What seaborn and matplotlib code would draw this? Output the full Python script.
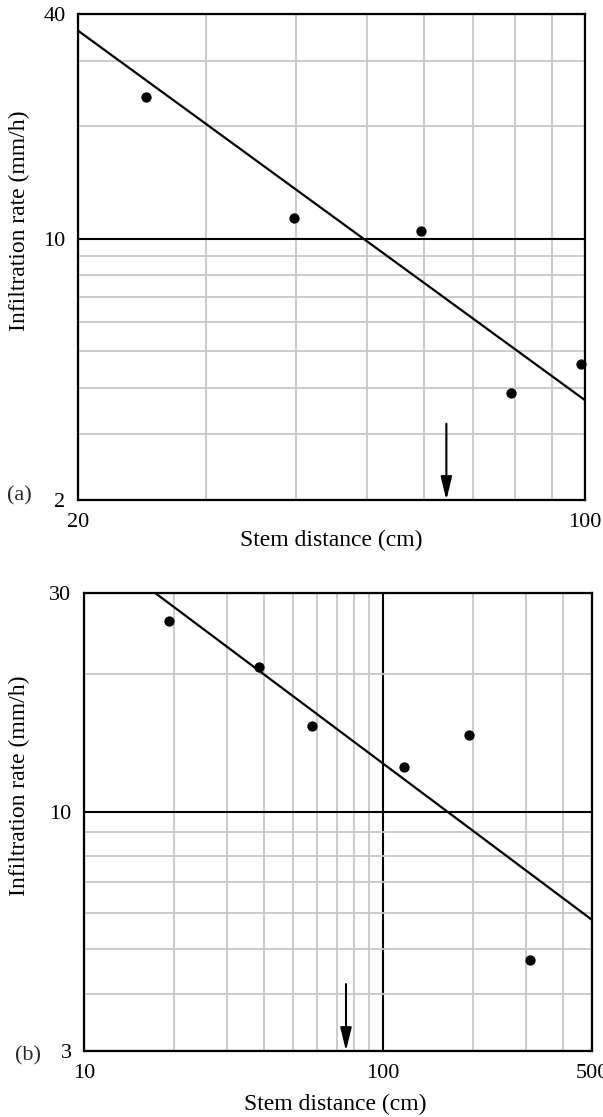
import matplotlib
matplotlib.use("Agg")
import matplotlib.pyplot as plt
import seaborn as sns
import numpy as np
import pandas as pd
from matplotlib.ticker import FixedLocator, NullFormatter, FixedFormatter

# ---------------- data ----------------
# panel (a)
a_dist = [24.8, 39.7, 59.5, 79.1, 98.8]
a_rate = [24.0, 11.4, 10.5, 3.87, 4.63]
a_fit_x = [20, 100]
a_fit_y = [36.1, 3.70]
a_arrow_x = 64.4
a_arrow_y = [3.2, 2.0]
a_xlim = (20, 100)
a_ylim = (2, 40)
a_xticks = [20, 100]
a_yticks = [2, 10, 40]
a_xminor = [30, 40, 50, 60, 70, 80, 90]
a_yminor = [3, 4, 5, 6, 7, 8, 9, 20, 30]

# panel (b)
b_dist = [19.2, 38.6, 57.7, 117.3, 193.3, 311.0]
b_rate = [26.1, 20.7, 15.4, 12.5, 14.7, 4.73]
b_fit_x = [17.3, 500]
b_fit_y = [30.0, 5.80]
b_arrow_x = 75.2
b_arrow_y = [4.2, 3.0]
b_xlim = (10, 500)
b_ylim = (3, 30)
b_xticks = [10, 100, 500]
b_yticks = [3, 10, 30]
b_xminor = [20, 30, 40, 50, 60, 70, 80, 90, 200, 300, 400]
b_yminor = [4, 5, 6, 7, 8, 9, 20]

xlabel = "Stem distance (cm)"
ylabel = "Infiltration rate (mm/h)"

# ---------------- style ----------------
sns.set_theme(style="white")
plt.rcParams["font.family"] = ["Liberation Serif", "DejaVu Serif"]

GRID_GRAY = "#c8c8c8"
FS_TICK = 16
FS_LAB = 17

fig = plt.figure(figsize=(6.03, 11.17), dpi=100)
W, H = 603, 1117


def px_axes(l, t, r, b):
    return [l / W, 1 - b / H, (r - l) / W, (b - t) / H]


ax_a = fig.add_axes(px_axes(78, 14, 585, 500))
ax_b = fig.add_axes(px_axes(84, 593, 592, 1051))


def style_axes(ax, xlim, ylim, xticks, yticks, xminor, yminor, xpad, ypad):
    ax.set_xscale("log")
    ax.set_yscale("log")
    ax.set_xlim(*xlim)
    ax.set_ylim(*ylim)
    ax.xaxis.set_major_locator(FixedLocator(xticks))
    ax.xaxis.set_major_formatter(FixedFormatter([str(t) for t in xticks]))
    ax.yaxis.set_major_locator(FixedLocator(yticks))
    ax.yaxis.set_major_formatter(FixedFormatter([str(t) for t in yticks]))
    ax.xaxis.set_minor_locator(FixedLocator(xminor))
    ax.yaxis.set_minor_locator(FixedLocator(yminor))
    ax.xaxis.set_minor_formatter(NullFormatter())
    ax.yaxis.set_minor_formatter(NullFormatter())
    ax.grid(which="minor", color=GRID_GRAY, lw=1.3, zorder=0)
    ax.grid(which="major", color="black", lw=1.5, zorder=1)
    ax.set_axisbelow(True)
    ax.tick_params(which="both", length=0, labelsize=FS_TICK, colors="black")
    ax.tick_params(axis="x", pad=xpad)
    ax.tick_params(axis="y", pad=ypad)
    for s in ax.spines.values():
        s.set_visible(True)
        s.set_color("black")
        s.set_linewidth(1.6)
        s.set_zorder(5)
    ax.set_facecolor("white")


style_axes(ax_a, a_xlim, a_ylim, a_xticks, a_yticks, a_xminor, a_yminor, 9.5, 9)
style_axes(ax_b, b_xlim, b_ylim, b_xticks, b_yticks, b_xminor, b_yminor, 9.5, 9)

for ax, dx, dy, fx, fy, ax_x, ax_y, xl, yl in [
    (ax_a, a_dist, a_rate, a_fit_x, a_fit_y, a_arrow_x, a_arrow_y, a_xlim, a_ylim),
    (ax_b, b_dist, b_rate, b_fit_x, b_fit_y, b_arrow_x, b_arrow_y, b_xlim, b_ylim),
]:
    sns.lineplot(x=fx, y=fy, ax=ax, color="black", lw=1.6, zorder=3)
    sns.scatterplot(x=dx, y=dy, ax=ax, color="black", s=55, edgecolor="black",
                    linewidth=0, zorder=4, clip_on=False)
    ax.annotate("", xy=(ax_x, ax_y[1]), xytext=(ax_x, ax_y[0]),
                arrowprops=dict(arrowstyle="-|>,head_length=0.7,head_width=0.17",
                                color="black", lw=1.5, mutation_scale=20,
                                shrinkA=0, shrinkB=0), zorder=6)
    ax.set_xlim(*xl)
    ax.set_ylim(*yl)

ax_a.set_xlabel(xlabel, fontsize=FS_LAB, color="black", va="center")
ax_a.xaxis.set_label_coords(0.499, -0.084)
ax_a.set_ylabel(ylabel, fontsize=FS_LAB, color="black", va="center")
ax_a.yaxis.set_label_coords(-0.116, 0.574)

ax_b.set_xlabel(xlabel, fontsize=FS_LAB, color="black", va="center")
ax_b.xaxis.set_label_coords(0.494, -0.116)
ax_b.set_ylabel(ylabel, fontsize=FS_LAB, color="black", va="center")
ax_b.yaxis.set_label_coords(-0.128, 0.579)

fig.text(19 / W, 1 - 496 / H, "(a)", fontsize=FS_TICK, ha="center", va="center")
fig.text(27.5 / W, 1 - 1056 / H, "(b)", fontsize=FS_TICK, ha="center", va="center")

fig.savefig("out.png", dpi=100, facecolor="white")
